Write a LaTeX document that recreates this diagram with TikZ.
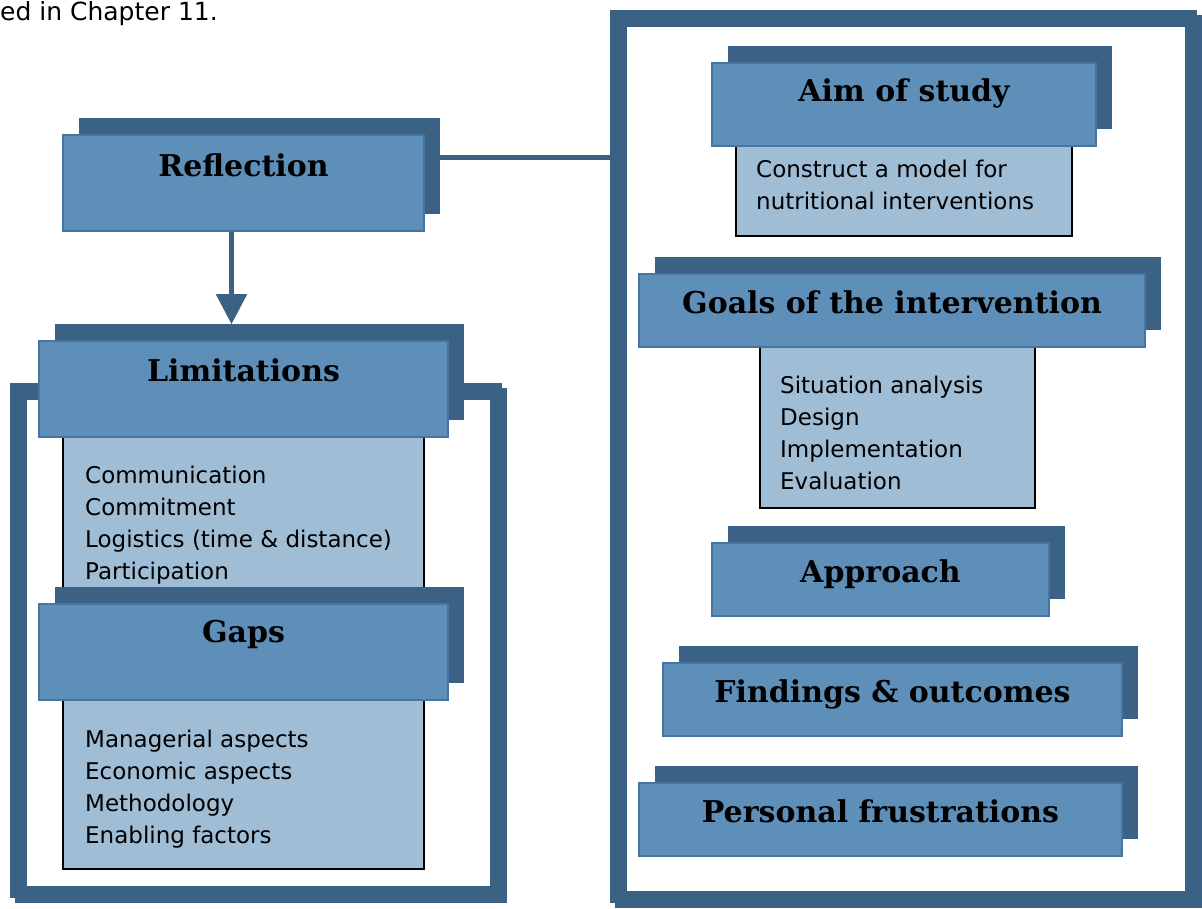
\documentclass[tikz,border=0pt]{standalone}
\usepackage{fontspec}
\setmainfont{DejaVu Sans}
\newfontfamily\headfont{DejaVu Serif}
\usetikzlibrary{arrows.meta,shadows}

\definecolor{darkblue}{HTML}{3B6185}
\definecolor{midblue}{HTML}{5E8FB9}
\definecolor{edgeblue}{HTML}{4774A0}
\definecolor{lightblue}{HTML}{A0BDD6}

\begin{document}
\begin{tikzpicture}[x=1pt, y=-1pt,
    frame/.style = {draw=darkblue, line width=12pt, inner sep=0pt,
                    general shadow={draw=darkblue, line width=12pt, shadow xshift=5pt, shadow yshift=-5pt}},
    head/.style = {draw=edgeblue, fill=midblue, line width=1.5pt, inner sep=0pt,
                   general shadow={fill=darkblue, shadow xshift=16pt, shadow yshift=17pt}},
    list/.style = {draw=black, fill=lightblue, line width=1.5pt, inner sep=0pt},
    title/.style = {font=\headfont\bfseries\fontsize{30}{36}\selectfont, anchor=base, inner sep=0pt},
    item/.style = {font=\fontsize{23}{32}\selectfont, anchor=base west, inner sep=0pt},
    link/.style = {draw=darkblue, line width=5pt}]
                \useasboundingbox (0,0) rectangle (1202,909);
                \node[item, font=\fontsize{25}{30}\selectfont] (intro) at (0,21) {ed in Chapter 11.};
                % frames
                \node[frame, minimum width=480, minimum height=503] (lframe) at (256,640.5) {};
                \node[frame, minimum width=575, minimum height=881] (rframe) at (903.5,456.5) {};
                % list boxes
                \node[list, minimum width=361, minimum height=163] (limlist) at (243.5,518.5) {};
                \node[list, minimum width=361, minimum height=169] (gaplist) at (243.5,784.5) {};
                \node[list, minimum width=336, minimum height=90] (aimlist) at (904,191) {};
                \node[list, minimum width=275, minimum height=161] (goallist) at (897.5,427.5) {};
                % headings
                \node[head, minimum width=361, minimum height=96] (refl) at (243.5,183) {};
                \node[head, minimum width=409, minimum height=96] (lim) at (243.5,389) {};
                \node[head, minimum width=409, minimum height=96] (gaps) at (243.5,652) {};
                \node[head, minimum width=384, minimum height=83] (aim) at (904,104.5) {};
                \node[head, minimum width=506, minimum height=73] (goals) at (892,310.5) {};
                \node[head, minimum width=337, minimum height=73] (appr) at (880.5,579.5) {};
                \node[head, minimum width=459, minimum height=73] (find) at (892.5,699.5) {};
                \node[head, minimum width=483, minimum height=73] (pers) at (880.5,819.5) {};
                \node[title] (refl-t) at ([yshift=-42pt]refl.north) {Reflection};
                \node[title] (lim-t) at ([yshift=-41pt]lim.north) {Limitations};
                \node[title] (gaps-t) at ([yshift=-39pt]gaps.north) {Gaps};
                \node[title] (aim-t) at ([yshift=-39pt]aim.north) {Aim of study};
                \node[title] (goals-t) at ([yshift=-40pt]goals.north) {Goals of the intervention};
                \node[title] (appr-t) at ([yshift=-40pt]appr.north) {Approach};
                \node[title] (find-t) at ([yshift=-40pt]find.north) {Findings \& outcomes};
                \node[title] (pers-t) at ([yshift=-40pt]pers.north) {Personal frustrations};
                % list texts
                \foreach \t [count=\i] in {Communication, Commitment, {Logistics (time \& distance)}, Participation}
                    \node[item] (lim\i) at (85,451+32*\i) {\t};
                \foreach \t [count=\i] in {Managerial aspects, Economic aspects, Methodology, Enabling factors}
                    \node[item] (gap\i) at (85,715+32*\i) {\t};
                \foreach \t [count=\i] in {Construct a model for, nutritional interventions}
                    \node[item] (aim\i) at (756,146+32*\i) {\t};
                \foreach \t [count=\i] in {Situation analysis, Design, Implementation, Evaluation}
                    \node[item] (goal\i) at (780,361+32*\i) {\t};
                % connectors
                \draw[link] ([yshift=-23pt]refl.north east) -- ([yshift=-23pt]refl.north east -| rframe.west);
                \draw[link, -{Triangle[width=30pt,length=30pt]}] ([xshift=-12pt]refl.south) -- ([xshift=-12pt,yshift=16pt]lim.north);
            \end{tikzpicture}
\end{document}
